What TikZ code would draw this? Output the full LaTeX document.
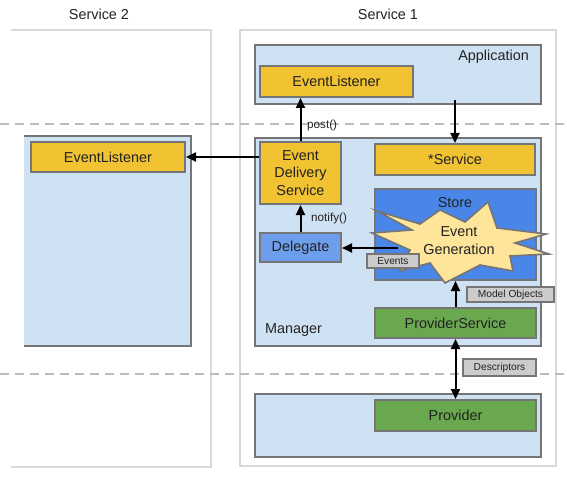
\documentclass[tikz,border=0pt]{standalone}
\usepackage{fontspec}
\setmainfont{Liberation Sans}
\usetikzlibrary{arrows.meta}
\definecolor{lblue}{HTML}{CFE2F3}
\definecolor{yel}{HTML}{F1C232}
\definecolor{storeblue}{HTML}{4A86E8}
\definecolor{delblue}{HTML}{6D9EEB}
\definecolor{grn}{HTML}{6AA84F}
\definecolor{lgray}{HTML}{CCCCCC}
\definecolor{staryel}{HTML}{FFE599}
\definecolor{bord}{HTML}{757575}
\definecolor{outer}{HTML}{D9D9D9}
\definecolor{dashc}{HTML}{BDBDBD}
\definecolor{txt}{HTML}{222222}
\tikzset{
  box/.style={draw=bord, line width=2pt, inner sep=0pt, text=txt,
    font=\fontsize{14.4}{17.5}\selectfont, align=center},
  tag/.style={draw=bord, fill=lgray, line width=1.6pt, inner sep=0pt, text=txt,
    font=\fontsize{10.2}{12}\selectfont},
  lbl/.style={inner sep=0pt, text=txt, font=\fontsize{14.4}{17.5}\selectfont},
  slbl/.style={inner sep=0pt, text=txt, font=\fontsize{11.7}{14}\selectfont},
  arr/.style={line width=2pt, -{Triangle[length=10pt,width=9pt]}},
  darr/.style={line width=2pt, {Triangle[length=10pt,width=9pt]}-{Triangle[length=10pt,width=9pt]}},
  outerbox/.style={draw=outer, line width=1.6pt},
  sep/.style={draw=dashc, line width=2pt, dash pattern=on 9pt off 6pt}
}
\begin{document}
\begin{tikzpicture}[x=1pt,y=-1pt]
\useasboundingbox (0,0) rectangle (567,481);
% outer service frames
\draw[outerbox] (11,30) -- (211,30) -- (211,467) -- (11,467);
\draw[outerbox] (240,30) rectangle (556,466);
% service labels
\node[lbl] (s2lbl) at (99,14) {Service 2};
\node[lbl] (s1lbl) at (388,14) {Service 1};
% separators
\draw[sep] (0,124) -- (567,124);
\draw[sep] (0,374) -- (567,374);
% service 2 inner box
\fill[lblue] (24,136) rectangle (191,346);
\draw[draw=bord, line width=2pt] (24,136) -- (191,136) -- (191,346) -- (24,346);
\node[box, fill=yel, minimum width=154pt, minimum height=30pt] (s2el) at (108,157) {EventListener};
% application
\node[box, fill=lblue, minimum width=286pt, minimum height=59pt] (app) at (398,74.5) {};
\node[lbl, anchor=east] (applbl) at (529,57) {Application};
\node[box, fill=yel, minimum width=153pt, minimum height=31pt] (appel) at (336.5,81.5) {EventListener};
% manager
\node[box, fill=lblue, minimum width=286pt, minimum height=208pt] (mgr) at (398,242) {};
\node[lbl, anchor=west] (mgrlbl) at (265,330) {Manager};
\node[box, fill=yel, minimum width=81pt, minimum height=62pt] (eds) at (300.5,173) {Event\\Delivery\\Service};
\node[box, fill=yel, minimum width=160pt, minimum height=31pt] (svc) at (455,159.5) {*Service};
\node[box, fill=storeblue, minimum width=161pt, minimum height=91pt] (store) at (455.5,234.5) {};
\node[lbl] (storelbl) at (455,203) {Store};
\node[box, fill=delblue, minimum width=81pt, minimum height=29pt] (del) at (300.5,247.5) {Delegate};
% event generation starburst
\draw[draw=bord, fill=staryel, line width=1.6pt, line join=miter]
  (377,211) -- (420,224) -- (440,210) -- (465,222) -- (488,202) -- (497,228)
  -- (546,234) -- (515,243) -- (549,254) -- (510,256) -- (513,271) -- (480,265)
  -- (445,283) -- (430,263) -- (400,271) -- (410,250) -- (372,233) -- (412,230) -- cycle;
\node[lbl, align=center] (gen) at (459,240.5) {Event\\Generation};
\coordinate (starL) at (398,248);
\node[tag, minimum width=52pt, minimum height=14pt] (events) at (393,261) {Events};
\node[box, fill=grn, minimum width=161pt, minimum height=30pt] (ps) at (455.5,323) {ProviderService};
\node[tag, minimum width=87pt, minimum height=15pt] (model) at (510.5,294.5) {Model Objects};
% provider
\node[box, fill=lblue, minimum width=286pt, minimum height=63pt] (pbox) at (398,425.5) {};
\node[box, fill=grn, minimum width=161pt, minimum height=31pt] (prov) at (455.5,415.5) {Provider};
\node[tag, minimum width=73pt, minimum height=17pt] (desc) at (499.5,367.5) {Descriptors};
% connectors
\draw[arr] (eds.north) -- (eds.north |- appel.south);
\node[slbl, anchor=west] (postlbl) at (307,125) {post()};
\draw[arr] ([yshift=5pt]svc.north |- app.south) -- (svc.north);
\draw[arr] (s2el.east -| eds.west) -- (s2el.east);
\draw[arr] (del.north) -- (eds.south);
\node[slbl, anchor=west] (notifylbl) at (311,218.5) {notify()};
\draw[arr] (starL) -- (starL -| del.east);
\draw[arr] (ps.north) -- (ps.north |- store.south);
\draw[darr] (ps.south) -- (ps.south |- prov.north);
\end{tikzpicture}
\end{document}
